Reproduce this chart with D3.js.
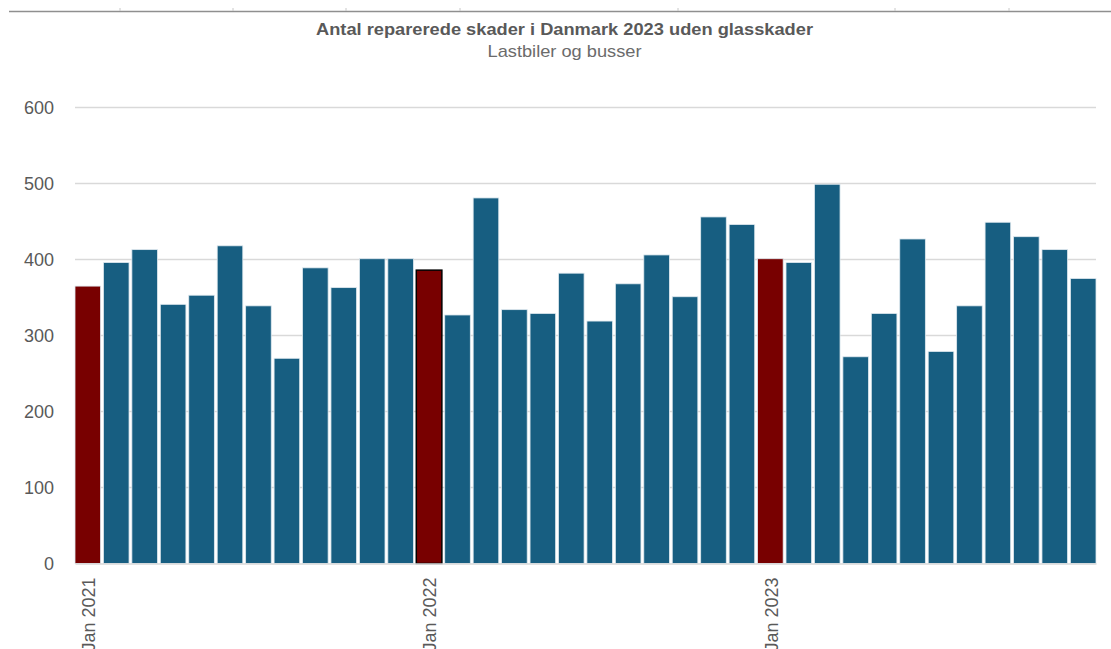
<!DOCTYPE html>
<html>
<head>
<meta charset="utf-8">
<script src="https://cdn.jsdelivr.net/npm/d3@7"></script>
<style>
  body { margin: 0; background: #fff; }
  svg { display: block; font-family: "Liberation Sans", Arial, sans-serif; }
</style>
</head>
<body>
<script>
// Data.
const years = ['2021', '2022', '2023'];
const monthNames = ['Jan', 'Feb', 'Mar', 'Apr', 'May', 'Jun', 'Jul', 'Aug', 'Sep', 'Oct', 'Nov', 'Dec'];
const values2021 = [365, 396, 413, 341, 353, 418, 339, 270, 389, 363, 401, 401];
const values2022 = [386, 327, 481, 334, 329, 382, 319, 368, 406, 351, 456, 446];
const values2023 = [401, 396, 499, 272, 329, 427, 279, 339, 449, 430, 413, 375];
const yTicks = [0, 100, 200, 300, 400, 500, 600];

const title = 'Antal reparerede skader i Danmark 2023 uden glasskader';
const subtitle = 'Lastbiler og busser';

// Build rows.
const series = [];
[values2021, values2022, values2023].forEach((vals, yi) => {
  vals.forEach((v, mi) => {
    series.push({key: monthNames[mi] + ' ' + years[yi], month: mi, value: v});
  });
});

const size = {width: 1111, height: 649};
const plot = {left: 75, right: 1096, top: 107.5, bottom: 563.5};

const svg = d3.select('body').append('svg')
  .attr('width', size.width)
  .attr('height', size.height);

// Top border with little ticks (cropped frame).
svg.append('line')
  .attr('x1', 9).attr('x2', size.width)
  .attr('y1', 11.5).attr('y2', 11.5)
  .attr('stroke', '#8f8f8f').attr('stroke-width', 1.5);
svg.selectAll('line.frame-tick')
  .data([120, 233, 346, 460, 678, 895, 1009])
  .enter().append('line')
  .attr('class', 'frame-tick')
  .attr('x1', d => d).attr('x2', d => d)
  .attr('y1', 8).attr('y2', 11)
  .attr('stroke', '#c8c8c8');

// Scales.
const xScale = d3.scaleBand()
  .domain(series.map(d => d.key))
  .range([plot.left, plot.right])
  .paddingInner(0.1)
  .paddingOuter(0);

const yScale = d3.scaleLinear()
  .domain([0, 600])
  .range([plot.bottom, plot.top]);

// Gridlines.
svg.append('g')
  .attr('class', 'grid')
  .selectAll('line')
  .data(yTicks.filter(d => d > 0))
  .enter().append('line')
  .attr('x1', plot.left).attr('x2', plot.right)
  .attr('y1', d => yScale(d)).attr('y2', d => yScale(d))
  .attr('stroke', '#d9d9d9').attr('stroke-width', 1.3);

// Y axis labels.
const yAxis = d3.axisLeft(yScale)
  .tickValues(yTicks)
  .tickSize(0)
  .tickPadding(21);
const yG = svg.append('g')
  .attr('transform', 'translate(' + plot.left + ',0)')
  .call(yAxis);
yG.select('.domain').remove();
yG.selectAll('text')
  .attr('fill', '#595959')
  .style('font-size', '18px')
  .style('font-family', '"Liberation Sans", Arial, sans-serif');

// Bars.
svg.append('g')
  .selectAll('rect')
  .data(series)
  .enter().append('rect')
  .attr('x', d => xScale(d.key))
  .attr('y', d => yScale(d.value))
  .attr('width', xScale.bandwidth())
  .attr('height', d => yScale(0) - yScale(d.value))
  .attr('fill', d => d.month === 0 ? '#780000' : '#175e81')
  .attr('stroke', d => d.key === 'Jan 2022' ? '#000' : '#dfe9ef')
  .attr('stroke-width', d => d.key === 'Jan 2022' ? 1.5 : 0.8);

// X axis.
const xAxis = d3.axisBottom(xScale)
  .tickValues(series.filter(d => d.month === 0).map(d => d.key))
  .tickSize(0)
  .tickPadding(0);
const xG = svg.append('g')
  .attr('transform', 'translate(0,' + plot.bottom + ')')
  .call(xAxis);
xG.select('.domain')
  .attr('stroke', '#d9d9d9')
  .attr('stroke-width', 1.5);
xG.selectAll('text')
  .attr('fill', '#595959')
  .style('font-size', '18px')
  .style('font-family', '"Liberation Sans", Arial, sans-serif')
  .attr('text-anchor', 'end')
  .attr('transform', 'translate(1,14) rotate(-90)')
  .attr('x', 0)
  .attr('y', 0)
  .attr('dy', '0.35em');

// Titles.
svg.append('text')
  .attr('x', 564.5)
  .attr('y', 35)
  .attr('text-anchor', 'middle')
  .attr('fill', '#595959')
  .attr('font-weight', 'bold')
  .attr('textLength', 497)
  .attr('lengthAdjust', 'spacingAndGlyphs')
  .style('font-size', '17px')
  .style('font-family', '"Liberation Sans Narrow", "Liberation Sans", Arial, sans-serif')
  .text(title);

svg.append('text')
  .attr('x', 564.5)
  .attr('y', 57)
  .attr('text-anchor', 'middle')
  .attr('fill', '#6b6b6b')
  .attr('textLength', 154)
  .attr('lengthAdjust', 'spacingAndGlyphs')
  .style('font-size', '17px')
  .style('font-family', '"Liberation Sans Narrow", "Liberation Sans", Arial, sans-serif')
  .text(subtitle);
</script>
</body>
</html>
